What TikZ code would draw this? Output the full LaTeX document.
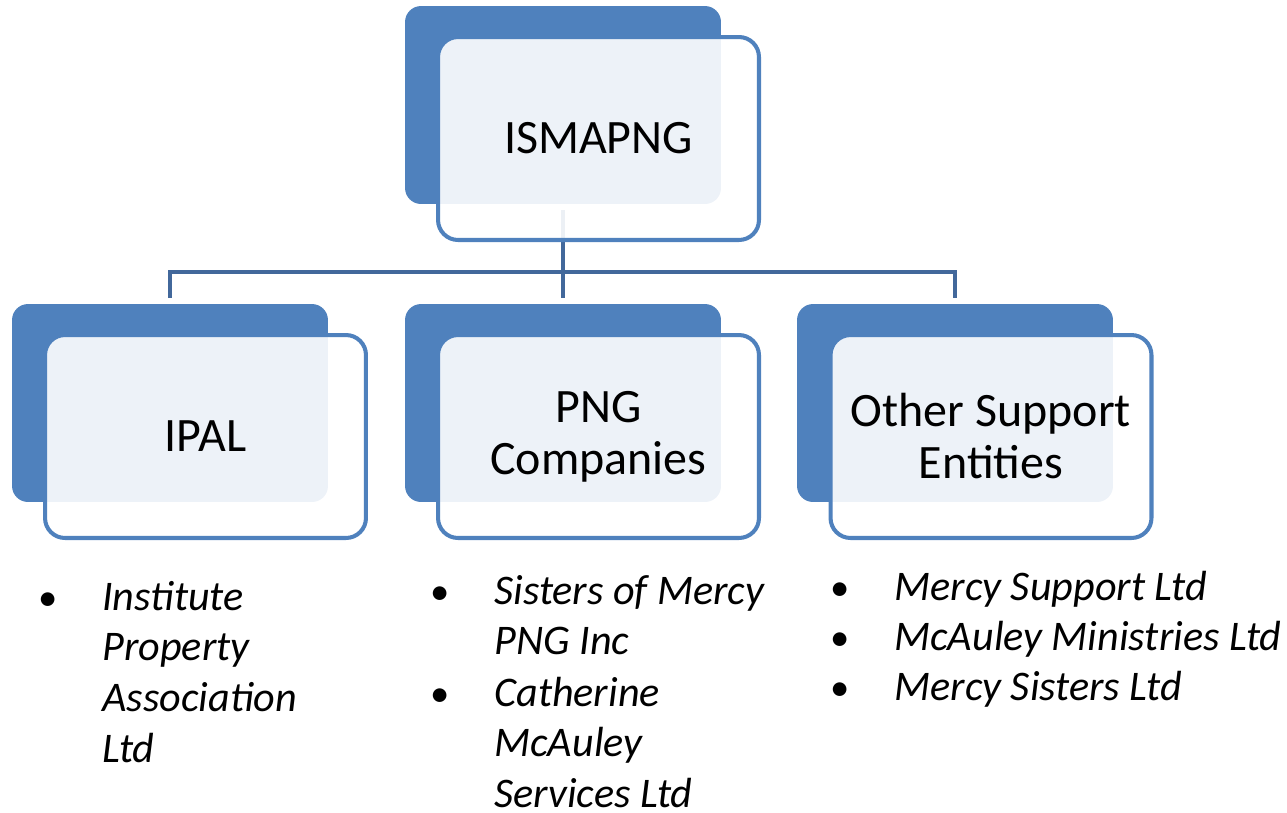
\documentclass[tikz,border=0pt]{standalone}
\usepackage{fontspec}
\setmainfont{Carlito}
\usetikzlibrary{backgrounds}
\definecolor{accent}{RGB}{79,129,189}
\definecolor{linkblue}{RGB}{66,104,155}

\begin{document}
\begin{tikzpicture}[x=0.02cm,y=-0.02cm,
    backbox/.style={fill=accent,rounded corners=0.32cm,minimum width=6.32cm,minimum height=3.96cm,inner sep=0},
    frontbox/.style={draw=accent,line width=2.3pt,fill=white,fill opacity=0.9,text opacity=1,rounded corners=0.4cm,
      minimum width=6.42cm,minimum height=4.06cm,align=center,font=\fontsize{27.3}{29.6}\selectfont},
    link/.style={draw=linkblue,line width=2.6pt},
    item/.style={anchor=base west,inner sep=0,font=\fontsize{24}{29}\selectfont\itshape},
    dot/.style={anchor=base,inner sep=0,font=\fontsize{22}{29}\selectfont}]
  \useasboundingbox (0,0) rectangle (1287,812);
  % back boxes
  \node[backbox] (topback) at (563,105) {};
  \node[backbox] (ipalback) at (170,403) {};
  \node[backbox] (pngback) at (563,403) {};
  \node[backbox] (otherback) at (955,403) {};
  % connectors
  \begin{scope}[on background layer]
    \coordinate (bus) at (563,272);
    \draw[link] ([yshift=-0.12cm]topback.south) -- ([yshift=0.12cm]pngback.north);
    \draw[link] ([yshift=0.12cm]ipalback.north) |- (bus) -| ([yshift=0.12cm]otherback.north);
  \end{scope}
  % front boxes
  \node[frontbox] (top) at (598.5,138.5) {ISMAPNG};
  \node[frontbox] (ipal) at (205.5,436.5) {IPAL};
  \node[frontbox] (png) at (598.5,436.5) {PNG\\Companies};
  \node[frontbox] (other) at (991,436.5) {Other Support\\Entities};
  % lists
  \node[dot] (ipaldot) at (48,610) {•};
  \node[item] (ipalitem) at (102,610) {\parbox[t]{6cm}{Institute\\Property\\Association\\Ltd}};
  \node[dot] (pngdota) at (440,604) {•};
  \node[item] (pngitema) at (494,604) {\parbox[t]{6cm}{Sisters of Mercy\\PNG Inc}};
  \node[dot] (pngdotb) at (440,706) {•};
  \node[item] (pngitemb) at (494,706) {\parbox[t]{6cm}{Catherine\\McAuley\\Services Ltd}};
  \node[dot] (otherdota) at (840,600) {•};
  \node[item] (otheritema) at (894,600) {Mercy Support Ltd};
  \node[dot] (otherdotb) at (840,650) {•};
  \node[item] (otheritemb) at (894,650) {McAuley Ministries Ltd};
  \node[dot] (otherdotc) at (840,700) {•};
  \node[item] (otheritemc) at (894,700) {Mercy Sisters Ltd};
\end{tikzpicture}
\end{document}
